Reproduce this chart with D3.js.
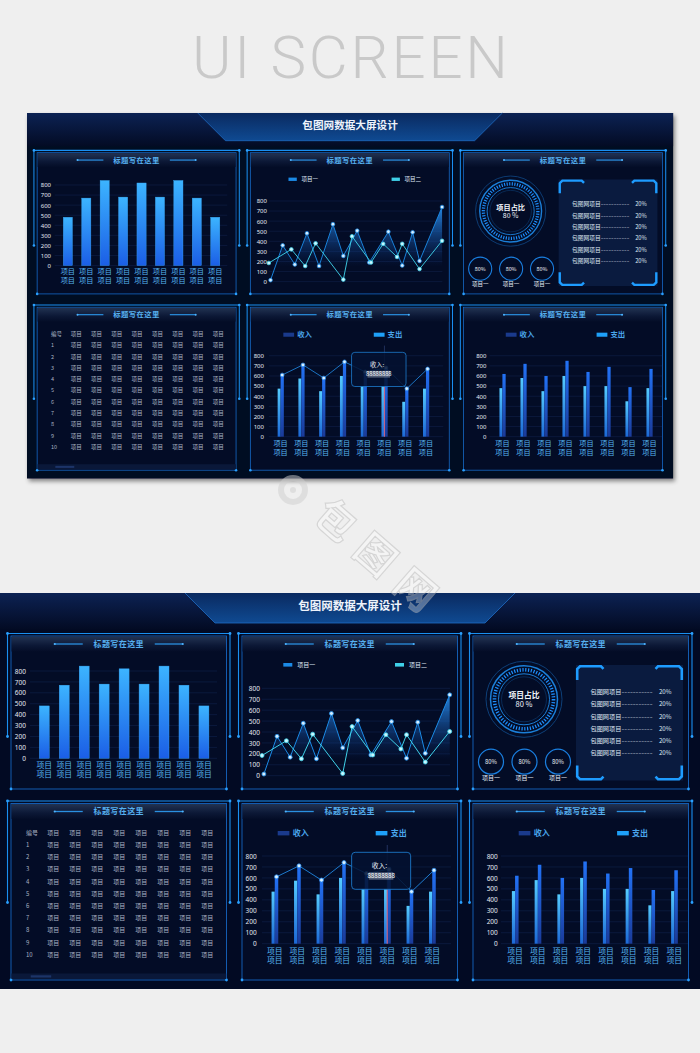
<!DOCTYPE html>
<html>
<head>
<meta charset="utf-8">
<script src="https://cdn.jsdelivr.net/npm/d3@7"></script>
<style>
  body { margin: 0; background: #efefef; }
  svg { display: block; }
</style>
</head>
<body>
<svg id="page"></svg>
<script>

// ---- data ----
var pageTitle = "UI SCREEN";
var boardTitle = "包图网数据大屏设计";
var panelTitle = "标题写在这里";

var yTicks = [0, 100, 200, 300, 400, 500, 600, 700, 800];

var barCats = ["项目项目", "项目项目", "项目项目", "项目项目", "项目项目", "项目项目", "项目项目", "项目项目", "项目项目"];
var barValues = [480, 670, 845, 680, 820, 680, 845, 670, 480];

var lineNames = ["项目一", "项目二"];
var lineOneX = [1, 8, 15, 22, 29, 37, 43, 51, 58, 69, 77, 83, 87, 100];
var lineOneY = [15, 360, 170, 480, 155, 570, 255, 505, 190, 495, 160, 490, 205, 740];
var lineTwoX = [0, 13, 21, 27, 43, 48, 59, 66, 74, 77, 87, 100];
var lineTwoY = [185, 320, 155, 380, 20, 450, 190, 375, 245, 375, 125, 405];

var ringLabel = "项目占比";
var ringValue = "80 %";
var smallRingValues = ["80%", "80%", "80%"];
var smallRingNames = ["项目一", "项目一", "项目一"];
var listNames = ["包图网项目", "包图网项目", "包图网项目", "包图网项目", "包图网项目", "包图网项目"];
var listValues = ["20%", "20%", "20%", "20%", "20%", "20%"];

var tableHeader = ["编号", "项目", "项目", "项目", "项目", "项目", "项目", "项目", "项目"];
var tableRowIds = ["1", "2", "3", "4", "5", "6", "7", "8", "9", "10"];
var tableCell = "项目";

var comboLegend = ["收入", "支出"];
var comboCats = ["项目项目", "项目项目", "项目项目", "项目项目", "项目项目", "项目项目", "项目项目", "项目项目"];
var comboIncome = [475, 575, 450, 600, 500, 500, 345, 475];
var comboExpense = [610, 710, 580, 740, 640, 680, 475, 670];
var tipLabel = "收入:";
var tipValue = "88888888";
var tipIndex = 5;

var groupIncome = [480, 580, 450, 600, 500, 500, 350, 480];
var groupExpense = [620, 720, 600, 750, 640, 690, 490, 670];

// ---- page ----
var cjk = '"Noto Sans CJK SC", "Noto Sans", sans-serif';
var svg = d3.select("#page").attr("width", 700).attr("height", 1053)
  .style("font-family", cjk);

var defs = svg.append("defs");

function grad(id, stops, horiz) {
  var gr = defs.append("linearGradient").attr("id", id)
    .attr("x1", 0).attr("y1", 0).attr("x2", horiz ? 1 : 0).attr("y2", horiz ? 0 : 1);
  stops.forEach(function(s){
    gr.append("stop").attr("offset", s[0]).attr("stop-color", s[1])
      .attr("stop-opacity", s[2] == null ? 1 : s[2]);
  });
  return gr;
}

grad("barFill", [[0, "#3cb4ff"], [1, "#1b5ee6"]]);
grad("lightBar", [[0, "#55ccff"], [1, "#1c68d6"]]);
grad("darkBar", [[0, "#2272f6"], [1, "#1a3a98"]]);
grad("headBand", [[0, "#223352"], [0.6, "#0c1836"], [1, "#040d27"]]);
grad("topBand", [[0, "#0c2253"], [1, "#030b24"]]);
grad("tabFill", [[0, "#0a2a60"], [1, "#0f4a92"]]);
grad("glow", [[0, "#1a8ff0", 0], [0.5, "#f2f8ff", 1], [1, "#1a8ff0", 0]], true);

var shadow = defs.append("filter").attr("id", "shadow")
  .attr("x", -0.05).attr("y", -0.05).attr("width", 1.1).attr("height", 1.12);
shadow.append("feDropShadow").attr("dx", 2).attr("dy", 3).attr("stdDeviation", 2.5)
  .attr("flood-color", "#000").attr("flood-opacity", 0.45);

svg.append("rect").attr("width", 700).attr("height", 1053).attr("fill", "#efefef");

svg.append("text")
  .attr("x", 350).attr("y", 78)
  .attr("text-anchor", "middle")
  .attr("font-family", "Roboto, sans-serif")
  .attr("font-weight", 300)
  .attr("font-size", 60)
  .attr("fill", "#c9c9c9")
  .attr("textLength", 316)
  .attr("lengthAdjust", "spacing")
  .text(pageTitle);


// ---- helpers ----

function yAxis(g, y, xPos, gx1, gx2) {
  g.append("g").selectAll("line").data(yTicks).join("line")
    .attr("x1", gx1).attr("x2", gx2)
    .attr("y1", function(d){ return y(d); }).attr("y2", function(d){ return y(d); })
    .attr("stroke", "#0f1f48").attr("stroke-width", 0.7);

  var ax = g.append("g").attr("transform", "translate(" + xPos + ",0)")
    .call(d3.axisLeft(y).tickValues(yTicks).tickSize(0).tickPadding(0));
  ax.select(".domain").remove();
  ax.selectAll("text")
    .attr("fill", "#e3e9f3")
    .attr("font-size", 6.5)
    .attr("font-family", '"Noto Sans", sans-serif');
}

function twoLineLabel(g, x, y1, y2, txt) {
  var t = g.append("text").attr("text-anchor", "middle")
    .attr("font-size", 7.8).attr("fill", "#58b6f2");
  t.append("tspan").attr("x", x).attr("y", y1).attr("dy", "0.35em").text(txt.slice(0, 2));
  t.append("tspan").attr("x", x).attr("y", y2).attr("dy", "0.35em").text(txt.slice(2));
}

function frame(g, x, y, w, h, arm) {
  g.append("rect")
    .attr("x", x + 3.5).attr("y", y + 2.5)
    .attr("width", w - 7).attr("height", h)
    .attr("fill", "#030c26")
    .attr("stroke", "#1565c0").attr("stroke-width", 0.9);

  g.append("rect")
    .attr("x", x + 4).attr("y", y + 3)
    .attr("width", w - 8).attr("height", 15)
    .attr("fill", "url(#headBand)");

  g.append("path")
    .attr("d", "M" + x + "," + (y + arm) + "V" + y + "H" + (x + w) + "V" + (y + arm))
    .attr("fill", "none").attr("stroke", "#1a8ff0").attr("stroke-width", 1.1);

  g.append("line")
    .attr("x1", x + w * 0.22).attr("x2", x + w * 0.78)
    .attr("y1", y + 0.6).attr("y2", y + 0.6)
    .attr("stroke", "url(#glow)").attr("stroke-width", 1.6);

  [[x, y + arm], [x + w, y + arm], [x + 3.5, y + 2.5 + h], [x + w - 3.5, y + 2.5 + h], [x, y], [x + w, y]]
    .forEach(function(p){
      g.append("circle").attr("cx", p[0]).attr("cy", p[1]).attr("r", 1.4).attr("fill", "#2aa0ff");
    });

  var cx = x + w / 2;
  g.append("text")
    .attr("x", cx).attr("y", y + 10.5).attr("dy", "0.35em")
    .attr("text-anchor", "middle")
    .attr("font-size", 8).attr("font-weight", "bold")
    .attr("letter-spacing", 0.4)
    .attr("fill", "#56b0f0")
    .text(panelTitle);

  [[cx - 64, cx - 36], [cx + 36, cx + 64]].forEach(function(s, i){
    g.append("line")
      .attr("x1", s[0]).attr("x2", s[1]).attr("y1", y + 10.5).attr("y2", y + 10.5)
      .attr("stroke", "#2a90e0").attr("stroke-width", 1.3);
    g.append("circle").attr("cx", i ? s[1] : s[0]).attr("cy", y + 10.5).attr("r", 1.1).attr("fill", "#4fb4ff");
  });
}


// ---- panels ----

function drawBars(g) {
  var y = d3.scaleLinear().domain([0, 800]).range([165.3, 78]);
  var x = d3.scaleBand().domain(d3.range(barValues.length)).range([29.3, 218.9]).padding(0.5);

  yAxis(g, y, 26, 30, 217);

  g.append("g").selectAll("rect").data(barValues).join("rect")
    .attr("x", function(d, i){ return x(i); })
    .attr("width", x.bandwidth())
    .attr("y", function(d){ return y(d); })
    .attr("height", function(d){ return y(0) - y(d); })
    .attr("fill", "url(#barFill)")
    .attr("stroke", "#3aa6f4").attr("stroke-width", 0.4);

  barCats.forEach(function(c, i){
    twoLineLabel(g, x(i) + x.bandwidth() / 2, 172, 181.3, c);
  });
}

function drawLines(g) {
  var y = d3.scaleLinear().domain([0, 800]).range([182.7, 95.3]);
  var x = d3.scaleLinear().domain([0, 100]).range([262, 449.7]);

  yAxis(g, y, 260, 262, 450);

  var area = defs.append("linearGradient").attr("id", "areaFill")
    .attr("gradientUnits", "userSpaceOnUse")
    .attr("x1", 0).attr("x2", 0).attr("y1", y(760)).attr("y2", y(150));
  area.append("stop").attr("offset", 0).attr("stop-color", "#2a92f0").attr("stop-opacity", 0.95);
  area.append("stop").attr("offset", 1).attr("stop-color", "#0d3f95").attr("stop-opacity", 0);

  var one = lineOneX.map(function(v, i){ return [v, lineOneY[i]]; });
  var two = lineTwoX.map(function(v, i){ return [v, lineTwoY[i]]; });

  g.append("path").datum(one)
    .attr("d", d3.area().x(function(d){ return x(d[0]); }).y0(y(0)).y1(function(d){ return y(d[1]); }))
    .attr("fill", "url(#areaFill)");

  var colors = ["#1b8ae6", "#3fd0e8"];
  [one, two].forEach(function(series, k){
    g.append("path").datum(series)
      .attr("d", d3.line().x(function(d){ return x(d[0]); }).y(function(d){ return y(d[1]); }))
      .attr("fill", "none").attr("stroke", colors[k]).attr("stroke-width", 1);
    g.append("g").selectAll("circle").data(series).join("circle")
      .attr("cx", function(d){ return x(d[0]); })
      .attr("cy", function(d){ return y(d[1]); })
      .attr("r", 2)
      .attr("fill", k ? "#c8f6ff" : "#d2ecff")
      .attr("stroke", colors[k]).attr("stroke-width", 0.8);
  });

  var legendX = [283.3, 395];
  lineNames.forEach(function(n, k){
    g.append("rect").attr("x", legendX[k]).attr("y", 70).attr("width", 9).attr("height", 3.6).attr("fill", colors[k]);
    g.append("text").attr("x", legendX[k] + 14).attr("y", 71.8).attr("dy", "0.35em")
      .attr("font-size", 6).attr("fill", "#dfe8f5").text(n);
  });
}

function drawRing(g) {
  var cx = 524, cy = 106.3;
  [[38, "#0d3f78", 1], [33.5, "#1b7fd8", 1.5], [25.5, "#1b7fd8", 1], [22.5, "#0d3f78", 0.6]].forEach(function(r){
    g.append("circle").attr("cx", cx).attr("cy", cy).attr("r", r[0])
      .attr("fill", "none").attr("stroke", r[1]).attr("stroke-width", r[2]);
  });
  g.append("circle").attr("cx", cx).attr("cy", cy).attr("r", 29.5)
    .attr("fill", "none").attr("stroke", "#1e90ff").attr("stroke-width", 3.6)
    .attr("stroke-dasharray", "1.2 1.6");

  g.append("text").attr("x", cx).attr("y", 102.3).attr("dy", "0.35em").attr("text-anchor", "middle")
    .attr("font-size", 7.8).attr("font-weight", "bold").attr("fill", "#f2f6fc").text(ringLabel);
  g.append("text").attr("x", cx).attr("y", 111.5).attr("dy", "0.35em").attr("text-anchor", "middle")
    .attr("font-size", 7.5).attr("fill", "#f2f6fc").text(ringValue);

  var sx = [491, 524.5, 558];
  smallRingValues.forEach(function(v, i){
    g.append("circle").attr("cx", sx[i]).attr("cy", 168.7).attr("r", 12.5)
      .attr("fill", "none").attr("stroke", "#1a7fe0").attr("stroke-width", 1.2);
    g.append("text").attr("x", sx[i]).attr("y", 168.7).attr("dy", "0.35em").attr("text-anchor", "middle")
      .attr("font-size", 5.8).attr("fill", "#f0f4fa").text(v);
    g.append("text").attr("x", sx[i]).attr("y", 185.3).attr("dy", "0.35em").attr("text-anchor", "middle")
      .attr("font-size", 6).attr("fill", "#e6edf7").text(smallRingNames[i]);
  });

  // list box
  var bx = 576, by = 72, bw = 107, bh = 115.5;
  g.append("rect").attr("x", bx).attr("y", by).attr("width", bw).attr("height", bh).attr("fill", "#0a1b3f");
  var corner = "M1.2,15V4L4,1.3H25L27.5,3.8";
  [[bx, by, 1, 1], [bx + bw, by, -1, 1], [bx, by + bh, 1, -1], [bx + bw, by + bh, -1, -1]].forEach(function(c){
    g.append("path").attr("d", corner)
      .attr("transform", "translate(" + c[0] + "," + c[1] + ") scale(" + c[2] + "," + c[3] + ")")
      .attr("fill", "none").attr("stroke", "#1e9cff").attr("stroke-width", 2.6);
  });

  var ly = d3.scalePoint().domain(d3.range(listNames.length)).range([98.8, 160.3]);
  listNames.forEach(function(n, i){
    var yy = ly(i);
    g.append("text").attr("x", 590.5).attr("y", yy).attr("dy", "0.35em")
      .attr("font-size", 6.2).attr("fill", "#dfe6f2").text(n);
    g.append("text").attr("x", 621.5).attr("y", yy).attr("dy", "0.35em")
      .attr("font-size", 6.2).attr("fill", "#c7cfdd")
      .attr("textLength", 31).attr("lengthAdjust", "spacingAndGlyphs").text("-----------");
    g.append("text").attr("x", 671.5).attr("y", yy).attr("dy", "0.35em").attr("text-anchor", "end")
      .attr("font-size", 6.2).attr("fill", "#dfe6f2").text(listValues[i]);
  });
}

function drawTable(g) {
  var tx = d3.scalePoint().domain(d3.range(tableHeader.length - 1)).range([53.3, 207.3]);
  var ty = d3.scalePoint().domain(d3.range(tableRowIds.length + 1)).range([239.7, 361.7]);
  var rows = [tableHeader[0]].concat(tableRowIds);

  rows.forEach(function(r, i){
    g.append("text").attr("x", 26).attr("y", ty(i)).attr("dy", "0.35em")
      .attr("font-size", 6).attr("fill", "#a8b2c3").text(r);
    d3.range(tableHeader.length - 1).forEach(function(j){
      g.append("text").attr("x", tx(j)).attr("y", ty(i)).attr("dy", "0.35em").attr("text-anchor", "middle")
        .attr("font-size", 6).attr("fill", "#a8b2c3")
        .text(i === 0 ? tableHeader[j + 1] : tableCell);
    });
  });

  g.append("rect").attr("x", 11.5).attr("y", 380.5).attr("width", 214.7).attr("height", 5.5).attr("fill", "#0a1839");
  g.append("rect").attr("x", 30.7).attr("y", 382.3).attr("width", 20.5).attr("height", 2.2).attr("fill", "#1c3468");
}

function drawCombo(g, income, expense, opt) {
  var y = d3.scaleLinear().domain([0, 800]).range([350.7, 263]);
  var x = d3.scaleBand().domain(d3.range(income.length)).range(opt.range);
  var cx = function(i){ return x(i) + x.bandwidth() / 2; };

  yAxis(g, y, opt.axisX, opt.grid[0], opt.grid[1]);

  var legColors = ["#1a3a8c", "#1ea0f8"];
  comboLegend.forEach(function(n, k){
    g.append("rect").attr("x", opt.legend[k]).attr("y", 238).attr("width", 11.7).attr("height", 4.4).attr("fill", legColors[k]);
    g.append("text").attr("x", opt.legend[k] + 15).attr("y", 240.2).attr("dy", "0.35em")
      .attr("font-size", 8).attr("font-weight", "bold").attr("fill", "#4aa6ec").text(n);
  });

  if (opt.tip != null) {
    g.append("line").attr("x1", cx(opt.tip)).attr("x2", cx(opt.tip)).attr("y1", 252).attr("y2", y(0))
      .attr("stroke", "#2b3d6e").attr("stroke-width", 0.8);
  }

  g.append("g").selectAll("rect").data(income).join("rect")
    .attr("x", function(d, i){ return cx(i) - 3.2; })
    .attr("width", 3.2)
    .attr("y", function(d){ return y(d); })
    .attr("height", function(d){ return y(0) - y(d); })
    .attr("fill", "url(#lightBar)");

  g.append("g").selectAll("rect").data(expense).join("rect")
    .attr("x", function(d, i){ return cx(i); })
    .attr("width", 3.5)
    .attr("y", function(d){ return y(d); })
    .attr("height", function(d){ return y(0) - y(d); })
    .attr("fill", "url(#darkBar)");

  if (opt.line) {
    g.append("path").datum(expense)
      .attr("d", d3.line().x(function(d, i){ return cx(i) + 1.75; }).y(function(d){ return y(d); }))
      .attr("fill", "none").attr("stroke", "#1f86e0").attr("stroke-width", 0.9);
    g.append("g").selectAll("circle").data(expense).join("circle")
      .attr("cx", function(d, i){ return cx(i) + 1.75; })
      .attr("cy", function(d){ return y(d); })
      .attr("r", 2)
      .attr("fill", "#d6efff").attr("stroke", "#2a8cf0").attr("stroke-width", 0.8);
  }

  comboCats.forEach(function(c, i){
    twoLineLabel(g, cx(i), 358, 367.7, c);
  });

  if (opt.tip != null) {
    var px = cx(opt.tip);
    g.append("line").attr("x1", px).attr("x2", px).attr("y1", 296.3).attr("y2", y(0))
      .attr("stroke", "#e2667f").attr("stroke-width", 1.2).attr("stroke-opacity", 0.85);
    var tx = px - 35.6;
    g.append("rect").attr("x", tx).attr("y", 259.3).attr("width", 59).attr("height", 37).attr("rx", 3.5)
      .attr("fill", "#041131").attr("fill-opacity", 0.86)
      .attr("stroke", "#1d78c8").attr("stroke-width", 0.9);
    g.append("text").attr("x", tx + 20).attr("y", 272.3).attr("dy", "0.35em")
      .attr("font-size", 6.8).attr("fill", "#e8eef8").text(tipLabel);
    g.append("rect").attr("x", tx + 17.2).attr("y", 279.3).attr("width", 24.5).attr("height", 7.4)
      .attr("fill", "#8f9bb0").attr("fill-opacity", 0.55);
    g.append("text").attr("x", tx + 29.5).attr("y", 283).attr("dy", "0.35em").attr("text-anchor", "middle")
      .attr("font-size", 6.2).attr("fill", "#ffffff").text(tipValue);
  }
}


// ---- board ----

var colX = [7.5, 238.5, 469.5], colW = 222.5;
var rowY = [40.5, 208], rowH = [153, 176.5], rowArm = [103, 101.5];

function drawBoard(root, withShadow) {
  root.append("rect").attr("width", 700).attr("height", 396).attr("fill", "#020a23")
    .attr("filter", withShadow ? "url(#shadow)" : null);
  root.append("rect").attr("width", 700).attr("height", 36).attr("fill", "url(#topBand)");
  root.append("path").attr("d", "M185,0H515L485,30H215Z").attr("fill", "url(#tabFill)");
  root.append("path").attr("d", "M185,0L215,30H485L515,0")
    .attr("fill", "none").attr("stroke", "#1f6cc4").attr("stroke-width", 0.8);
  root.append("text")
    .attr("x", 350).attr("y", 13).attr("dy", "0.35em")
    .attr("text-anchor", "middle")
    .attr("font-size", 11.5).attr("font-weight", "bold")
    .attr("fill", "#eef3fb")
    .text(boardTitle);

  rowY.forEach(function(ry, r){
    colX.forEach(function(cx){
      frame(root, cx, ry, colW, rowH[r], rowArm[r]);
    });
  });

  drawBars(root);
  drawLines(root);
  drawRing(root);
  drawTable(root);
  drawCombo(root, comboIncome, comboExpense, {
    range: [263.5, 443.5], axisX: 256.7, grid: [262, 451],
    legend: [277.7, 375.7], line: true, tip: tipIndex
  });
  drawCombo(root, groupIncome, groupExpense, {
    range: [503.7, 685.7], axisX: 497.8, grid: [501, 688],
    legend: [518.7, 617.1], line: false, tip: null
  });
}

var boardA = svg.append("g").attr("transform", "translate(27,113) scale(0.923)");
drawBoard(boardA, true);

var boardB = svg.append("g").attr("transform", "translate(0,593)");
drawBoard(boardB, false);


// ---- watermark ----
var wm = svg.append("g").attr("opacity", 0.5);
wm.append("circle").attr("cx", 293).attr("cy", 490).attr("r", 12)
  .attr("fill", "none").attr("stroke", "#cfcfcf").attr("stroke-width", 6);
wm.append("circle").attr("cx", 293).attr("cy", 490).attr("r", 3).attr("fill", "#cfcfcf");
wm.append("text")
  .attr("transform", "translate(311,518) rotate(41)")
  .attr("font-size", 40).attr("font-weight", "bold")
  .attr("letter-spacing", 13)
  .attr("fill", "#ffffff").attr("fill-opacity", 0.6)
  .attr("stroke", "#bdbdbd").attr("stroke-width", 1.2)
  .text("包图网");

</script>
</body>
</html>
